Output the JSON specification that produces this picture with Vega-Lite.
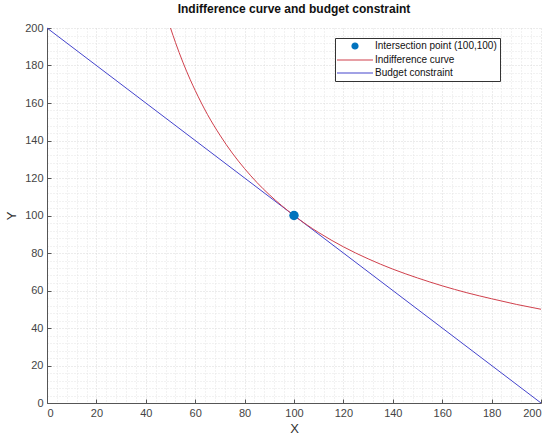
{
  "$schema": "https://vega.github.io/schema/vega-lite/v6.json",
  "width": 494,
  "height": 375,
  "autosize": {"type": "none"},
  "padding": {"left": 47, "top": 28, "right": 9, "bottom": 31},
  "background": "white",
  "title": {"text": "Indifference curve and budget constraint", "fontSize": 12, "font": "Liberation Sans", "fontWeight": "bold", "color": "#111", "offset": 6, "anchor": "middle"},
  "config": {
    "view": {"stroke": null},
    "axis": {"labelFont": "Liberation Sans", "titleFont": "Liberation Sans", "labelFontSize": 11, "labelColor": "#444", "titleColor": "#333", "titleFontSize": 13, "titleFontWeight": "normal", "domainColor": "#555", "tickColor": "#555"}
  },
  "datasets": {
    "curve": [
      {"x": 50, "y": 200}, {"x": 52, "y": 192.3}, {"x": 55, "y": 181.8}, {"x": 58, "y": 172.4},
      {"x": 60, "y": 166.7}, {"x": 65, "y": 153.8}, {"x": 70, "y": 142.9}, {"x": 75, "y": 133.3},
      {"x": 80, "y": 125}, {"x": 85, "y": 117.6}, {"x": 90, "y": 111.1}, {"x": 95, "y": 105.3},
      {"x": 100, "y": 100}, {"x": 105, "y": 95.2}, {"x": 110, "y": 90.9}, {"x": 120, "y": 83.3},
      {"x": 130, "y": 76.9}, {"x": 140, "y": 71.4}, {"x": 150, "y": 66.7}, {"x": 160, "y": 62.5},
      {"x": 170, "y": 58.8}, {"x": 180, "y": 55.6}, {"x": 190, "y": 52.6}, {"x": 200, "y": 50}
    ],
    "budget": [{"x": 0, "y": 200}, {"x": 200, "y": 0}],
    "point": [{"x": 100, "y": 100}]
  },
  "resolve": {"axis": {"x": "independent", "y": "independent"}},
  "layer": [
    {
      "data": {"name": "point"},
      "mark": {"type": "point", "opacity": 0},
      "encoding": {
        "x": {"field": "x", "type": "quantitative", "scale": {"domain": [0, 200], "nice": false},
          "axis": {"orient": "bottom", "values": [4,8,12,16,24,28,32,36,44,48,52,56,64,68,72,76,84,88,92,96,104,108,112,116,124,128,132,136,144,148,152,156,164,168,172,176,184,188,192,196], "labels": false, "ticks": false, "domain": false, "title": null, "grid": true, "gridColor": "#e4e4e4", "gridDash": [1, 2], "gridWidth": 1}},
        "y": {"field": "y", "type": "quantitative", "scale": {"domain": [0, 200], "nice": false},
          "axis": {"orient": "left", "values": [4,8,12,16,24,28,32,36,44,48,52,56,64,68,72,76,84,88,92,96,104,108,112,116,124,128,132,136,144,148,152,156,164,168,172,176,184,188,192,196], "labels": false, "ticks": false, "domain": false, "title": null, "grid": true, "gridColor": "#e4e4e4", "gridDash": [1, 2], "gridWidth": 1}}
      }
    },
    {
      "data": {"name": "budget"},
      "mark": {"type": "line", "strokeWidth": 1},
      "encoding": {
        "x": {"field": "x", "type": "quantitative", "scale": {"domain": [0, 200], "nice": false},
          "axis": {"orient": "bottom", "values": [0,20,40,60,80,100,120,140,160,180,200], "title": "X", "titlePadding": 4, "grid": true, "gridColor": "#d8d8d8", "gridDash": [1, 2], "tickSize": -4, "labelPadding": 8, "domainWidth": 1}},
        "y": {"field": "y", "type": "quantitative", "scale": {"domain": [0, 200], "nice": false},
          "axis": {"orient": "left", "values": [0,20,40,60,80,100,120,140,160,180,200], "title": "Y", "titlePadding": 6, "grid": true, "gridColor": "#d8d8d8", "gridDash": [1, 2], "tickSize": -4, "labelPadding": 8, "domainWidth": 1}},
        "color": {"datum": "Budget constraint", "type": "nominal",
          "scale": {"domain": ["Intersection point (100,100)", "Indifference curve", "Budget constraint"], "range": ["#0072BD", "#d0404c", "#4444cc"]},
          "legend": {"title": null, "legendX": 288, "legendY": 10, "orient": "none",
            "labelFont": "Liberation Sans", "labelFontSize": 10, "labelColor": "#111", "fillColor": "white", "strokeColor": "#333",
            "padding": 3, "rowPadding": 3, "symbolSize": 40, "symbolStrokeWidth": 1.2, "labelOffset": 15, "symbolOffset": 12,
            "encode": {"symbols": {"update": {
              "shape": {"signal": "datum.value === 'Intersection point (100,100)' ? 'circle' : 'M-18,0H18'"},
              "size": {"signal": "datum.value === 'Intersection point (100,100)' ? 36 : 4"},
              "fill": {"signal": "datum.value === 'Intersection point (100,100)' ? '#0072BD' : 'transparent'"},
              "stroke": {"signal": "datum.value === 'Intersection point (100,100)' ? 'transparent' : (datum.value === 'Indifference curve' ? '#d0404c' : '#4444cc')"},
              "opacity": {"value": 1}
            }}}}}
      }
    },
    {
      "data": {"name": "curve"},
      "mark": {"type": "line", "strokeWidth": 1, "interpolate": "monotone"},
      "encoding": {
        "x": {"field": "x", "type": "quantitative", "scale": {"domain": [0, 200], "nice": false}, "axis": null},
        "y": {"field": "y", "type": "quantitative", "scale": {"domain": [0, 200], "nice": false}, "axis": null},
        "color": {"datum": "Indifference curve", "type": "nominal"}
      }
    },
    {
      "data": {"name": "point"},
      "mark": {"type": "point", "filled": true, "opacity": 1, "size": 90, "shape": "circle"},
      "encoding": {
        "x": {"field": "x", "type": "quantitative", "scale": {"domain": [0, 200], "nice": false}, "axis": null},
        "y": {"field": "y", "type": "quantitative", "scale": {"domain": [0, 200], "nice": false}, "axis": null},
        "color": {"datum": "Intersection point (100,100)", "type": "nominal"}
      }
    }
  ]
}
